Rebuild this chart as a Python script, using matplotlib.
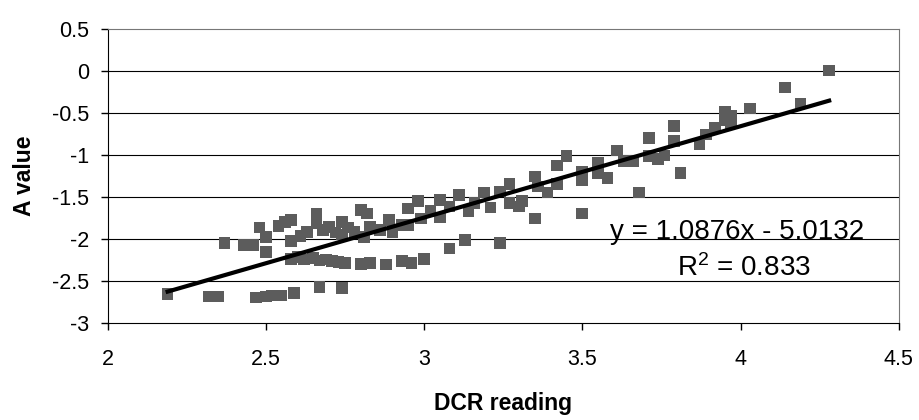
import numpy as np
import matplotlib.pyplot as plt

plt.rcParams['font.family'] = ['Liberation Sans', 'DejaVu Sans']

# DCR reading vs A value
dcr = [2.19, 2.32, 2.35, 2.47, 2.50, 2.52, 2.55, 2.59, 2.67, 2.74,
       2.58, 2.60, 2.62, 2.65, 2.67, 2.69, 2.71, 2.73, 2.75, 2.80,
       2.83, 2.88, 2.93, 2.96, 3.00, 3.08, 3.13, 3.24,
       2.37, 2.43, 2.46, 2.48, 2.50, 2.50, 2.54, 2.56, 2.58, 2.58,
       2.61, 2.63, 2.66, 2.66, 2.68, 2.70, 2.72, 2.74, 2.74, 2.76,
       2.78, 2.80, 2.81, 2.82, 2.83, 2.86,
       2.89, 2.90, 2.93, 2.95, 2.95, 2.98, 2.99, 3.02, 3.05, 3.05,
       3.08, 3.11, 3.14, 3.16, 3.19, 3.21, 3.24, 3.27, 3.27, 3.30, 3.31,
       3.35, 3.35, 3.36, 3.39, 3.42, 3.42, 3.45, 3.50, 3.50, 3.50,
       3.55, 3.55, 3.58, 3.61, 3.63, 3.66, 3.68, 3.71, 3.71, 3.74,
       3.76, 3.79, 3.79, 3.81,
       3.87, 3.89, 3.92, 3.95, 3.95, 3.97, 3.97, 4.03, 4.14, 4.19, 4.28]
a_value = [-2.66, -2.69, -2.69, -2.70, -2.69, -2.68, -2.68, -2.65, -2.58, -2.59,
           -2.24, -2.22, -2.25, -2.23, -2.26, -2.25, -2.27, -2.28, -2.29, -2.30,
           -2.29, -2.31, -2.27, -2.29, -2.24, -2.12, -2.02, -2.05,
           -2.05, -2.08, -2.08, -1.87, -1.98, -2.16, -1.85, -1.80, -1.78, -2.03,
           -1.97, -1.92, -1.70, -1.82, -1.90, -1.86, -1.93, -1.95, -1.80, -1.87,
           -1.92, -1.66, -1.98, -1.70, -1.86, -1.90,
           -1.78, -1.92, -1.84, -1.64, -1.84, -1.55, -1.76, -1.67, -1.54, -1.75,
           -1.62, -1.48, -1.67, -1.58, -1.45, -1.63, -1.44, -1.35, -1.58, -1.62, -1.55,
           -1.26, -1.76, -1.38, -1.45, -1.13, -1.35, -1.02, -1.21, -1.31, -1.70,
           -1.10, -1.22, -1.28, -0.95, -1.08, -1.08, -1.45, -0.80, -1.02, -1.05,
           -1.01, -0.66, -0.84, -1.22,
           -0.88, -0.76, -0.68, -0.49, -0.59, -0.54, -0.63, -0.45, -0.20, -0.39, 0.0]

# linear trendline as printed on the chart
slope = 1.0876
intercept = -5.0132
r_squared = 0.833

x_ticks = [2, 2.5, 3, 3.5, 4, 4.5]
y_ticks = [-3, -2.5, -2, -1.5, -1, -0.5, 0, 0.5]

fig = plt.figure(figsize=(9.19, 4.2), dpi=100)
ax = fig.add_axes([0.117, 0.232, 0.861, 0.70])

for yv in y_ticks[1:-1]:
    ax.axhline(yv, color='black', lw=0.8, zorder=1)

ax.scatter(dcr, a_value, marker='s', s=70, color='#5c5c5c', edgecolors='none', zorder=2)

xl = np.array([min(dcr), max(dcr)])
ax.plot(xl, slope * xl + intercept, color='black', lw=3, zorder=3)

ax.text(3.99, -2.0, 'y = %.4fx - %.4f' % (slope, -intercept),
        fontsize=20, ha='center', va='baseline')
ax.text(4.01, -2.44, '$\\mathregular{R^2}$ = %.3f' % r_squared,
        fontsize=20, ha='center', va='baseline')

ax.set_xlim(2, 4.5)
ax.set_ylim(-3, 0.5)
ax.set_xticks(x_ticks)
ax.set_xticklabels(['2', '2.5', '3', '3.5', '4', '4.5'])
ax.set_yticks(y_ticks)
ax.set_yticklabels(['-3', '-2.5', '-2', '-1.5', '-1', '-0.5', '0', '0.5'])
ax.tick_params(labelsize=15.5, length=5, width=1, direction='out')
ax.tick_params(axis='x', pad=14)
ax.tick_params(axis='y', pad=8)

ax.spines['top'].set_color('#777777')
ax.spines['right'].set_color('#777777')
for s in ['left', 'bottom']:
    ax.spines[s].set_color('black')

ax.set_xlabel('DCR reading', fontsize=16.5, fontweight='bold', labelpad=16)
ax.set_ylabel('A value', fontsize=16.5, fontweight='bold', labelpad=12)

fig.savefig('out.png', dpi=100)
